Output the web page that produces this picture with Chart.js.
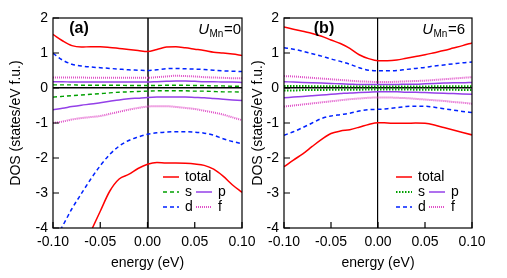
<!DOCTYPE html>
<html><head><meta charset="utf-8">
<script src="https://cdn.jsdelivr.net/npm/chart.js@4/dist/chart.umd.min.js"></script>
<style>
html,body{margin:0;padding:0;background:#fff;width:507px;height:278px;overflow:hidden}
#ca{position:absolute;left:0;top:0}
#cb{position:absolute;left:245px;top:0}
</style></head><body>
<canvas id="ca" width="265" height="278"></canvas>
<canvas id="cb" width="262" height="278"></canvas>
<script>
// ---------- data ----------
const energy = [-0.10,-0.09,-0.08,-0.07,-0.06,-0.05,-0.04,-0.03,-0.02,-0.01,0.00,0.01,0.02,0.03,0.04,0.05,0.06,0.07,0.08,0.09,0.10];
const xTicks = [-0.10,-0.05,0.00,0.05,0.10];
const yTicks = [-4,-3,-2,-1,0,1,2];
const xTitle = 'energy (eV)';
const yTitle = 'DOS (states/eV f.u.)';
const legendLabels = ['total','s','p','d','f'];

// panel (a), U_Mn = 0
const totalUpA = [1.53,1.35,1.21,1.17,1.18,1.18,1.16,1.13,1.10,1.07,1.04,1.10,1.17,1.18,1.15,1.11,1.07,1.02,1.00,0.97,0.93];
const totalDnA = [-6.3,-5.7,-5.2,-4.7,-4.1,-3.52,-2.95,-2.6,-2.47,-2.3,-2.18,-2.13,-2.14,-2.14,-2.15,-2.17,-2.21,-2.32,-2.52,-2.77,-2.98];
const sUpA = [0.09,0.09,0.09,0.08,0.08,0.08,0.08,0.08,0.07,0.07,0.07,0.07,0.08,0.08,0.08,0.07,0.07,0.06,0.06,0.05,0.05];
const sDnA = [-0.26,-0.24,-0.22,-0.2,-0.18,-0.16,-0.14,-0.12,-0.11,-0.1,-0.09,-0.08,-0.08,-0.08,-0.08,-0.09,-0.09,-0.1,-0.11,-0.11,-0.12];
const pUpA = [0.18,0.18,0.17,0.17,0.17,0.17,0.17,0.17,0.17,0.17,0.17,0.18,0.19,0.2,0.2,0.19,0.18,0.18,0.17,0.17,0.16];
const pDnA = [-0.62,-0.58,-0.53,-0.49,-0.46,-0.42,-0.38,-0.34,-0.31,-0.29,-0.27,-0.26,-0.26,-0.26,-0.26,-0.27,-0.28,-0.3,-0.32,-0.34,-0.36];
const dUpA = [0.99,0.8,0.68,0.63,0.6,0.58,0.56,0.54,0.52,0.51,0.5,0.52,0.55,0.56,0.55,0.54,0.53,0.51,0.49,0.48,0.47];
const dDnA = [-4.4,-3.95,-3.45,-3.02,-2.6,-2.22,-1.9,-1.66,-1.5,-1.4,-1.32,-1.28,-1.26,-1.25,-1.25,-1.26,-1.29,-1.35,-1.45,-1.53,-1.59];
const fUpA = [0.30,0.30,0.30,0.30,0.29,0.29,0.29,0.29,0.29,0.29,0.29,0.31,0.33,0.35,0.34,0.33,0.31,0.30,0.29,0.28,0.28];
const fDnA = [-1.0,-0.96,-0.9,-0.86,-0.83,-0.8,-0.74,-0.68,-0.62,-0.57,-0.53,-0.52,-0.52,-0.54,-0.57,-0.6,-0.65,-0.7,-0.76,-0.84,-0.92];

// panel (b), U_Mn = 6
const totalUpB = [1.74,1.68,1.62,1.56,1.48,1.37,1.27,1.13,0.95,0.84,0.78,0.78,0.8,0.85,0.9,0.95,1.01,1.07,1.14,1.21,1.29];
const totalDnB = [-2.25,-2.06,-1.88,-1.67,-1.47,-1.3,-1.23,-1.19,-1.12,-1.04,-0.99,-1.0,-1.01,-1.01,-1.0,-1.01,-1.06,-1.13,-1.2,-1.27,-1.34];
const sUpB = [0.06,0.06,0.06,0.05,0.05,0.05,0.05,0.04,0.04,0.04,0.04,0.04,0.04,0.04,0.04,0.04,0.05,0.05,0.05,0.05,0.05];
const sDnB = [-0.07,-0.07,-0.06,-0.06,-0.06,-0.05,-0.05,-0.05,-0.05,-0.04,-0.04,-0.04,-0.04,-0.04,-0.05,-0.05,-0.05,-0.05,-0.05,-0.06,-0.06];
const pUpB = [0.18,0.17,0.16,0.15,0.14,0.13,0.12,0.11,0.1,0.1,0.1,0.1,0.1,0.11,0.11,0.12,0.13,0.14,0.15,0.15,0.16];
const pDnB = [-0.28,-0.26,-0.24,-0.22,-0.2,-0.18,-0.16,-0.14,-0.13,-0.12,-0.11,-0.11,-0.11,-0.12,-0.12,-0.13,-0.14,-0.15,-0.16,-0.17,-0.18];
const dUpB = [1.15,1.11,1.05,0.98,0.91,0.83,0.76,0.68,0.58,0.51,0.49,0.49,0.5,0.53,0.56,0.59,0.63,0.66,0.69,0.72,0.74];
const dDnB = [-1.35,-1.25,-1.13,-1.0,-0.87,-0.8,-0.76,-0.72,-0.66,-0.62,-0.61,-0.59,-0.56,-0.53,-0.52,-0.52,-0.55,-0.59,-0.63,-0.67,-0.7];
const fUpB = [0.34,0.33,0.31,0.29,0.27,0.25,0.23,0.21,0.19,0.18,0.17,0.17,0.18,0.19,0.2,0.21,0.23,0.25,0.27,0.29,0.31];
const fDnB = [-0.53,-0.5,-0.47,-0.44,-0.41,-0.38,-0.35,-0.32,-0.3,-0.28,-0.27,-0.27,-0.28,-0.29,-0.31,-0.33,-0.35,-0.37,-0.4,-0.42,-0.45];

// ---------- styles ----------
const FONT = '"Liberation Sans", Arial, sans-serif';
const RED = '#ff0000', GREEN = '#00a000', BLUE = '#0022ff', PURPLE = '#9440e8', PINK = '#e050c8';

function mk(arr, color, dash, width) {
  return {
    data: energy.map((e, i) => ({x: e, y: arr[i]})),
    borderColor: color, borderDash: dash, borderWidth: width,
    pointRadius: 0, fill: false, cubicInterpolationMode: 'monotone'
  };
}

const decor = {
  id: 'decor',
  afterDraw(chart, args, o) {
    const {ctx, chartArea: a, scales: {x, y}} = chart;
    ctx.save();
    ctx.strokeStyle = '#000';
    ctx.lineWidth = 1.2;
    ctx.setLineDash([]);
    ctx.strokeRect(a.left, a.top, a.right - a.left, a.bottom - a.top);
    ctx.beginPath();
    x.ticks.forEach(t => { const p = x.getPixelForValue(t.value); ctx.moveTo(p, a.bottom); ctx.lineTo(p, a.bottom - 6); });
    y.ticks.forEach(t => { const p = y.getPixelForValue(t.value); ctx.moveTo(a.left, p); ctx.lineTo(a.left + 6, p); });
    ctx.stroke();

    // legend
    const ds = chart.data.datasets;
    const L = o.legend;
    ctx.textBaseline = 'middle';
    ctx.fillStyle = '#000';
    ctx.font = '14px ' + FONT;
    L.items.forEach(it => {
      const d = ds[it.ds];
      const lx = L.x + it.col * L.colW, ly = L.y + it.row * L.rowH;
      ctx.strokeStyle = d.borderColor; ctx.lineWidth = d.borderWidth;
      ctx.setLineDash(d.borderDash || []);
      ctx.beginPath(); ctx.moveTo(lx, ly); ctx.lineTo(lx + 16, ly); ctx.stroke();
      ctx.setLineDash([]);
      ctx.fillText(legendLabels[it.label], lx + 22, ly + 0.5);
    });

    // panel label
    ctx.font = 'bold 16px ' + FONT;
    ctx.textAlign = 'center';
    ctx.fillText(o.panel, a.left + o.panelDx, 29);

    // U_Mn label
    ctx.textBaseline = 'alphabetic';
    ctx.textAlign = 'left';
    const f1 = 'italic 15px ' + FONT, f2 = '10px ' + FONT, f3 = '15px ' + FONT;
    ctx.font = f1; const w1 = ctx.measureText('U').width;
    ctx.font = f2; const w2 = ctx.measureText('Mn').width;
    const rest = '=' + o.u;
    ctx.font = f3; const w3 = ctx.measureText(rest).width;
    let sx = a.right - o.uRight - (w1 + w2 + w3 + 1);
    ctx.font = f1; ctx.fillText('U', sx, 34); sx += w1 + 0.5;
    ctx.font = f2; ctx.fillText('Mn', sx, 37); sx += w2 + 0.5;
    ctx.font = f3; ctx.fillText(rest, sx, 34);
    ctx.restore();
  }
};

function makePanel(id, s, cfg) {
  const greenDash = cfg.sDotted ? [1.5, 1.5] : [4, 3];
  const greenW = cfg.sDotted ? 2 : 1.4;
  const datasets = [
    mk(s.totalUp, RED, [], 1.5), mk(s.totalDn, RED, [], 1.5),
    mk(s.sUp, GREEN, greenDash, greenW), mk(s.sDn, GREEN, greenDash, greenW),
    mk(s.pUp, PURPLE, [], 1.5), mk(s.pDn, PURPLE, [], 1.5),
    mk(s.dUp, BLUE, [4, 3], 1.5), mk(s.dDn, BLUE, [4, 3], 1.5),
    mk(s.fUp, PINK, [1, 1], 2), mk(s.fDn, PINK, [1, 1], 2)
  ];
  return new Chart(document.getElementById(id), {
    type: 'line',
    data: {datasets},
    options: {
      responsive: false, animation: false,
      layout: {padding: {top: 18, right: cfg.padRight, left: 0, bottom: 0}},
      plugins: {
        legend: {display: false}, tooltip: {enabled: false},
        decor: {
          legend: {x: cfg.legX, y: 177, colW: cfg.colW, rowH: 15,
            items: [{ds: 0, label: 0, col: 0, row: 0}, {ds: 2, label: 1, col: 0, row: 1},
                    {ds: 4, label: 2, col: 1, row: 1}, {ds: 6, label: 3, col: 0, row: 2},
                    {ds: 8, label: 4, col: 1, row: 2}]},
          panel: cfg.panel, panelDx: cfg.panelDx, u: cfg.u, uRight: cfg.uRight
        }
      },
      scales: {
        x: {
          type: 'linear', min: -0.1, max: 0.1,
          afterBuildTicks: sc => { sc.ticks = xTicks.map(v => ({value: v})); },
          afterFit: sc => { sc.height = 50; },
          ticks: {padding: 6, color: '#000', font: {size: 14, family: FONT}, callback: v => v.toFixed(2), maxRotation: 0, autoSkip: false},
          grid: {drawTicks: false, color: c => (c.tick && Math.abs(c.tick.value) < 1e-9) ? cfg.vColor : 'rgba(0,0,0,0)', lineWidth: cfg.vWidth},
          border: {display: false},
          title: {display: true, text: xTitle, color: '#000', font: {size: 14, family: FONT}, padding: {top: 0, bottom: 6.5}}
        },
        y: {
          type: 'linear', min: -4, max: 2,
          afterBuildTicks: sc => { sc.ticks = yTicks.map(v => ({value: v})); },
          afterFit: sc => { sc.width = cfg.yWidth; },
          ticks: {padding: 5, color: '#000', font: {size: 14, family: FONT}, callback: v => String(v)},
          grid: {drawTicks: false, color: c => (c.tick && Math.abs(c.tick.value) < 1e-9) ? '#000' : 'rgba(0,0,0,0)', lineWidth: 1.4},
          border: {display: false},
          title: {display: true, text: yTitle, color: '#000', font: {size: 14, family: FONT}, padding: {top: cfg.yTitlePad, bottom: 0}}
        }
      }
    },
    plugins: [decor]
  });
}

makePanel('ca', {totalUp: totalUpA, totalDn: totalDnA, sUp: sUpA, sDn: sDnA, pUp: pUpA, pDn: pDnA, dUp: dUpA, dDn: dDnA, fUp: fUpA, fDn: fDnA},
  {padRight: 23, yWidth: 53, yTitlePad: 8, sDotted: false, legX: 163, colW: 33, panel: '(a)', panelDx: 26, u: '0', uRight: 1, vColor: '#444', vWidth: 2});
makePanel('cb', {totalUp: totalUpB, totalDn: totalDnB, sUp: sUpB, sDn: sDnB, pUp: pUpB, pDn: pDnB, dUp: dUpB, dDn: dDnB, fUp: fUpB, fDn: fDnB},
  {padRight: 35, yWidth: 39, yTitlePad: 4.5, sDotted: true, legX: 151, colW: 33, panel: '(b)', panelDx: 40, u: '6', uRight: 7, vColor: '#000', vWidth: 1.2});
</script>
</body></html>
